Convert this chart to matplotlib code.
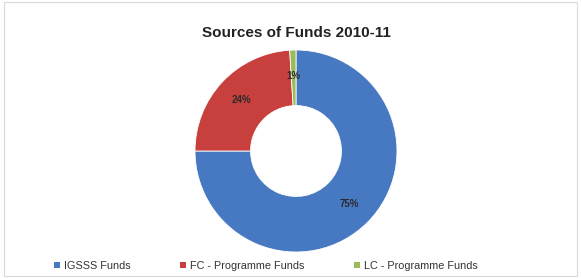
import matplotlib
matplotlib.use("Agg")
import matplotlib.pyplot as plt
from matplotlib.patches import Rectangle, Patch

plt.rcParams['font.family'] = ['Liberation Sans', 'DejaVu Sans']

sources = ["IGSSS Funds", "FC - Programme Funds", "LC - Programme Funds"]
shares = [75, 24, 1]
colors = ["#4679c2", "#c8403d", "#9bbb59"]

W, H = 581, 278
fig = plt.figure(figsize=(W / 100, H / 100), dpi=100)

# light frame around the chart area
fig.patches.append(Rectangle((4 / W, 2 / H), 1 - 8 / W, 1 - 4 / H, transform=fig.transFigure,
                             fill=False, edgecolor="#d9d9d9", linewidth=0.8))

# pie centre ~ (296, 151) px, outer radius ~101 px
cx, cy, r = 296, 151, 101
ax = fig.add_axes([(cx - r) / W, (H - cy - r) / H, 2 * r / W, 2 * r / H])
wedges, texts, autotexts = ax.pie(
    shares, colors=colors, startangle=90, counterclock=False, radius=1,
    autopct="%1.0f%%", pctdistance=0.74,
    wedgeprops=dict(width=0.55, edgecolor="white", linewidth=0.6),
    textprops=dict(fontsize=7, color="#2a2a2a", fontweight="bold"))
ax.set_xlim(-1, 1)
ax.set_ylim(-1, 1)
ax.set_aspect("equal")
ax.axis("off")

fig.text(cx / W, 1 - 33 / H, "Sources of Funds 2010-11", ha="center", va="center",
         fontsize=11, fontweight="bold", color="#222222")

handles = [Patch(facecolor=c, edgecolor="none") for c in colors]
fig.legend(handles, sources, loc="center", bbox_to_anchor=(266 / W, 1 - 266 / H), ncol=3,
           frameon=False, fontsize=7.8, handlelength=0.5, handleheight=0.5,
           handletextpad=0.4, columnspacing=4.6, labelcolor="#333333")

fig.savefig("out.png", dpi=100)
